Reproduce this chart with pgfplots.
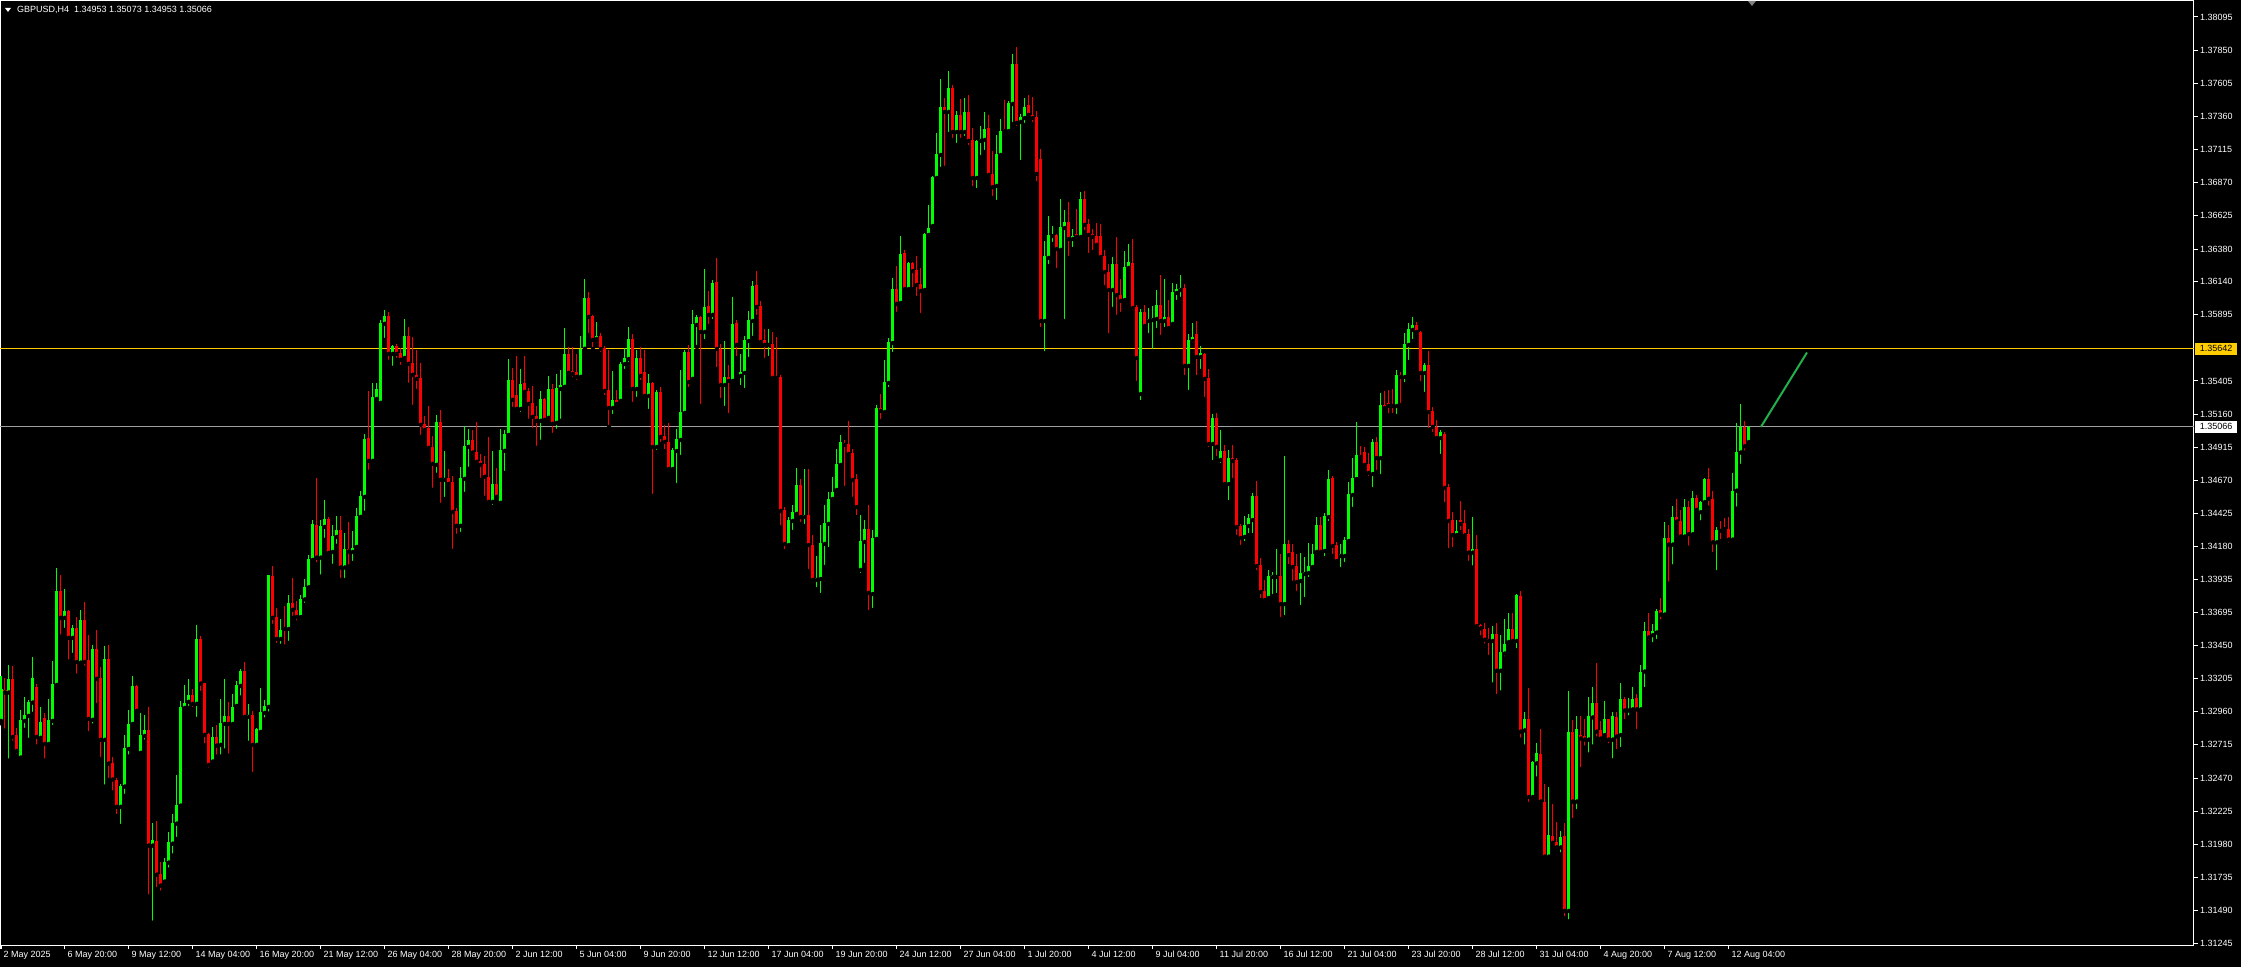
\documentclass[border=0pt]{standalone}
\usepackage{fontspec}
\setmainfont{Liberation Sans}
\usepackage{pgfplots}
\usepackage{pgfplotstable}
\pgfplotsset{compat=1.18}
\definecolor{bull}{HTML}{00FF00}
\definecolor{bear}{HTML}{FF0000}
\definecolor{lvl}{HTML}{FFCC00}
\definecolor{bid}{HTML}{A0A0A0}
\definecolor{trend}{HTML}{22B04C}

% GBPUSD H4: bar index, open, high, low, close
\pgfplotstableread{
i o h l c
0 1.32892 1.33227 1.32875 1.33129
1 1.33121 1.33208 1.32821 1.33102
2 1.33102 1.33306 1.32599 1.33203
3 1.33203 1.33299 1.32732 1.32774
4 1.32789 1.32838 1.32636 1.32670
5 1.32621 1.32974 1.32599 1.32900
6 1.32892 1.33070 1.32826 1.32937
7 1.32929 1.33047 1.32752 1.33035
8 1.33028 1.33368 1.32944 1.33210
9 1.33143 1.33166 1.32703 1.32774
10 1.32767 1.32996 1.32752 1.32885
11 1.32914 1.32949 1.32599 1.32722
12 1.32722 1.33055 1.32715 1.32900
13 1.32892 1.33336 1.32848 1.33166
14 1.33158 1.34023 1.33139 1.33853
15 1.33853 1.33971 1.33516 1.33654
16 1.33654 1.33868 1.33565 1.33705
17 1.33705 1.33713 1.33331 1.33506
18 1.33506 1.33602 1.33380 1.33580
19 1.33580 1.33663 1.33227 1.33328
20 1.33323 1.33713 1.33318 1.33639
21 1.33639 1.33772 1.33286 1.33328
22 1.33343 1.33528 1.32801 1.32907
23 1.32900 1.33454 1.32858 1.33424
24 1.33424 1.33565 1.33010 1.33203
25 1.33210 1.33294 1.32611 1.32752
26 1.32752 1.33447 1.32407 1.33350
27 1.33350 1.33454 1.32456 1.32577
28 1.32582 1.32626 1.32363 1.32459
29 1.32459 1.32468 1.32190 1.32257
30 1.32257 1.32429 1.32116 1.32414
31 1.32407 1.32789 1.32338 1.32693
32 1.32685 1.32974 1.32629 1.32870
33 1.32870 1.33227 1.32845 1.33151
34 1.33151 1.33158 1.32966 1.32966
35 1.32656 1.32949 1.32656 1.32789
36 1.32781 1.32937 1.32739 1.32826
37 1.32826 1.32996 1.31594 1.31971
38 1.31971 1.32141 1.31401 1.32013
39 1.32005 1.32153 1.31648 1.31756
40 1.31761 1.31852 1.31623 1.31675
41 1.31705 1.31882 1.31685 1.31850
42 1.31845 1.32072 1.31793 1.31998
43 1.31985 1.32205 1.31897 1.32138
44 1.32133 1.32493 1.32020 1.32271
45 1.32266 1.33040 1.32234 1.32996
46 1.32988 1.33161 1.32961 1.33025
47 1.33033 1.33203 1.32988 1.33084
48 1.33084 1.33129 1.32981 1.33018
49 1.33018 1.33602 1.32907 1.33498
50 1.33498 1.33520 1.33099 1.33168
51 1.33173 1.33173 1.32710 1.32789
52 1.32796 1.32803 1.32532 1.32567
53 1.32592 1.32848 1.32592 1.32774
54 1.32774 1.32865 1.32629 1.32710
55 1.32715 1.33055 1.32629 1.32877
56 1.32870 1.33203 1.32673 1.32929
57 1.32929 1.33033 1.32636 1.32870
58 1.32870 1.33092 1.32870 1.32996
59 1.33003 1.33188 1.32988 1.33158
60 1.33151 1.33277 1.33065 1.33262
61 1.33262 1.33328 1.32907 1.32922
62 1.32922 1.33018 1.32730 1.32937
63 1.32937 1.32966 1.32500 1.32715
64 1.32715 1.32840 1.32715 1.32833
65 1.32811 1.33136 1.32803 1.32959
66 1.32951 1.33047 1.32902 1.33003
67 1.32996 1.33971 1.32946 1.33971
68 1.33964 1.34038 1.33595 1.33654
69 1.33661 1.33728 1.33454 1.33498
70 1.33498 1.33646 1.33447 1.33565
71 1.33587 1.33742 1.33442 1.33572
72 1.33572 1.33824 1.33469 1.33764
73 1.33764 1.33949 1.33654 1.33713
74 1.33713 1.33780 1.33620 1.33660
75 1.33660 1.33820 1.33630 1.33790
76 1.33790 1.33939 1.33750 1.33880
77 1.33880 1.34119 1.33850 1.34090
78 1.34082 1.34378 1.34070 1.34348
79 1.34341 1.34688 1.34050 1.34099
80 1.34099 1.34378 1.33959 1.34334
81 1.34326 1.34526 1.34230 1.34385
82 1.34385 1.34400 1.34112 1.34134
83 1.34141 1.34341 1.34038 1.34260
84 1.34252 1.34408 1.34186 1.34304
85 1.34304 1.34408 1.33934 1.34026
86 1.34026 1.34282 1.33934 1.34164
87 1.34164 1.34363 1.34033 1.34144
88 1.34141 1.34297 1.34060 1.34171
89 1.34178 1.34467 1.34178 1.34408
90 1.34400 1.34592 1.34371 1.34555
91 1.34548 1.35014 1.34430 1.34977
92 1.34984 1.35332 1.34733 1.34814
93 1.34814 1.35391 1.34807 1.35287
94 1.35272 1.35391 1.35250 1.35346
95 1.35243 1.35856 1.35235 1.35834
96 1.35827 1.35930 1.35708 1.35886
97 1.35886 1.35916 1.35546 1.35605
98 1.35605 1.35672 1.35502 1.35664
99 1.35664 1.35679 1.35561 1.35605
100 1.35612 1.35649 1.35509 1.35561
101 1.35575 1.35864 1.35575 1.35738
102 1.35738 1.35805 1.35376 1.35531
103 1.35539 1.35731 1.35213 1.35450
104 1.35450 1.35635 1.35331 1.35420
105 1.35428 1.35539 1.34991 1.35080
106 1.35088 1.35147 1.35014 1.35043
107 1.35058 1.35221 1.34881 1.34910
108 1.34918 1.34999 1.34600 1.34792
109 1.34785 1.35154 1.34711 1.35102
110 1.35102 1.35191 1.34489 1.34674
111 1.34674 1.34888 1.34533 1.34688
112 1.34688 1.34755 1.34614 1.34644
113 1.34659 1.34703 1.34149 1.34437
114 1.34444 1.34467 1.34260 1.34334
115 1.34334 1.34770 1.34274 1.34688
116 1.34681 1.35073 1.34570 1.34925
117 1.34918 1.35051 1.34755 1.34969
118 1.34969 1.35043 1.34844 1.34876
119 1.34881 1.35102 1.34792 1.34807
120 1.34814 1.34866 1.34674 1.34785
121 1.34792 1.34851 1.34541 1.34696
122 1.34696 1.34991 1.34504 1.34511
123 1.34511 1.34888 1.34474 1.34644
124 1.34644 1.34762 1.34541 1.34548
125 1.34504 1.35051 1.34496 1.34895
126 1.34888 1.35043 1.34725 1.35014
127 1.35006 1.35568 1.34977 1.35413
128 1.35413 1.35502 1.35198 1.35265
129 1.35302 1.35590 1.35169 1.35198
130 1.35198 1.35494 1.35161 1.35383
131 1.35391 1.35590 1.35302 1.35324
132 1.35331 1.35354 1.35110 1.35235
133 1.35243 1.35368 1.35043 1.35139
134 1.35147 1.35221 1.34910 1.35110
135 1.35110 1.35331 1.34955 1.35272
136 1.35272 1.35280 1.35117 1.35117
137 1.35132 1.35442 1.35132 1.35346
138 1.35346 1.35383 1.35006 1.35088
139 1.35095 1.35457 1.35036 1.35354
140 1.35346 1.35487 1.35110 1.35376
141 1.35361 1.35797 1.35361 1.35605
142 1.35605 1.35657 1.35435 1.35465
143 1.35479 1.35657 1.35420 1.35457
144 1.35472 1.35605 1.35398 1.35435
145 1.35435 1.35738 1.35435 1.35642
146 1.35642 1.36159 1.35642 1.36018
147 1.36018 1.36063 1.35745 1.35878
148 1.35885 1.35890 1.35641 1.35708
149 1.35715 1.35841 1.35700 1.35737
150 1.35737 1.35760 1.35604 1.35641
151 1.35649 1.35663 1.35287 1.35331
152 1.35338 1.35634 1.35065 1.35205
153 1.35205 1.35479 1.35146 1.35264
154 1.35264 1.35338 1.35227 1.35235
155 1.35257 1.35545 1.35242 1.35530
156 1.35530 1.35649 1.35479 1.35575
157 1.35567 1.35804 1.35530 1.35715
158 1.35715 1.35752 1.35235 1.35346
159 1.35346 1.35634 1.35272 1.35575
160 1.35575 1.35656 1.35397 1.35442
161 1.35471 1.35634 1.35264 1.35294
162 1.35294 1.35456 1.35183 1.35390
163 1.35390 1.35397 1.34555 1.34917
164 1.34917 1.35338 1.34880 1.35323
165 1.35323 1.35360 1.34939 1.34991
166 1.34998 1.35080 1.34887 1.34954
167 1.34954 1.35094 1.34747 1.34754
168 1.34754 1.34910 1.34740 1.34895
169 1.34887 1.35050 1.34636 1.34976
170 1.34969 1.35483 1.34843 1.35176
171 1.35168 1.35634 1.35153 1.35619
172 1.35619 1.35671 1.35346 1.35397
173 1.35420 1.35930 1.35420 1.35826
174 1.35819 1.35893 1.35656 1.35878
175 1.35878 1.35883 1.35220 1.35767
176 1.35767 1.36233 1.35700 1.35952
177 1.35959 1.36070 1.35811 1.35893
178 1.35893 1.36151 1.35848 1.36129
179 1.36137 1.36314 1.35493 1.35641
180 1.35641 1.35678 1.35264 1.35375
181 1.35375 1.35700 1.35205 1.35434
182 1.35434 1.35523 1.35153 1.35405
183 1.35405 1.36026 1.35383 1.35826
184 1.35833 1.35856 1.35575 1.35671
185 1.35442 1.35604 1.35360 1.35471
186 1.35464 1.35737 1.35338 1.35708
187 1.35700 1.35922 1.35567 1.35856
188 1.35848 1.36144 1.35723 1.36107
189 1.36114 1.36218 1.35878 1.35952
190 1.35959 1.35996 1.35663 1.35693
191 1.35708 1.35789 1.35560 1.35671
192 1.35671 1.35789 1.35575 1.35678
193 1.35678 1.35767 1.35405 1.35427
194 1.35434 1.35730 1.35420 1.35427
195 1.35434 1.35449 1.34325 1.34444
196 1.34451 1.34473 1.34148 1.34200
197 1.34192 1.34399 1.34170 1.34377
198 1.34370 1.34488 1.34289 1.34436
199 1.34422 1.34762 1.34399 1.34636
200 1.34636 1.34680 1.34348 1.34399
201 1.34399 1.34754 1.34333 1.34414
202 1.34414 1.34754 1.34000 1.34192
203 1.34192 1.34266 1.33926 1.33934
204 1.33934 1.34111 1.33867 1.33948
205 1.33941 1.34340 1.33823 1.34207
206 1.34200 1.34488 1.34030 1.34355
207 1.34348 1.34584 1.34163 1.34533
208 1.34533 1.34695 1.34525 1.34584
209 1.34599 1.34902 1.34599 1.34791
210 1.34784 1.35006 1.34762 1.34954
211 1.34946 1.34969 1.34614 1.34932
212 1.34939 1.35109 1.34843 1.34865
213 1.34873 1.34902 1.34533 1.34673
214 1.34680 1.34717 1.34399 1.34473
215 1.34008 1.34414 1.33971 1.34222
216 1.34215 1.34377 1.34045 1.34311
217 1.34311 1.34488 1.33697 1.33838
218 1.33830 1.34303 1.33712 1.34244
219 1.34237 1.35227 1.34237 1.35205
220 1.35205 1.35308 1.35109 1.35183
221 1.35175 1.35560 1.35175 1.35397
222 1.35390 1.35722 1.35345 1.35693
223 1.35685 1.36166 1.35604 1.36084
224 1.36084 1.36254 1.35900 1.35974
225 1.35981 1.36476 1.35959 1.36343
226 1.36351 1.36373 1.36070 1.36084
227 1.36084 1.36284 1.36084 1.36277
228 1.36277 1.36282 1.36084 1.36217
229 1.36225 1.36328 1.36018 1.36114
230 1.36122 1.36240 1.35892 1.36070
231 1.36077 1.36498 1.36062 1.36491
232 1.36484 1.36705 1.36454 1.36535
233 1.36550 1.36917 1.36550 1.36912
234 1.36905 1.37238 1.36883 1.37082
235 1.37075 1.37637 1.36972 1.37430
236 1.37430 1.37496 1.36979 1.37393
237 1.37393 1.37696 1.37230 1.37570
238 1.37570 1.37592 1.37186 1.37245
239 1.37245 1.37400 1.37149 1.37371
240 1.37371 1.37489 1.37186 1.37245
241 1.37245 1.37496 1.37201 1.37393
242 1.37393 1.37519 1.37134 1.37179
243 1.37186 1.37275 1.36831 1.36905
244 1.36905 1.37186 1.36816 1.37179
245 1.37179 1.37289 1.37060 1.37193
246 1.37186 1.37393 1.37097 1.37267
247 1.37275 1.37371 1.36898 1.36927
248 1.36935 1.37105 1.36757 1.36838
249 1.36846 1.37223 1.36728 1.37082
250 1.37075 1.37341 1.37060 1.37252
251 1.37267 1.37481 1.37238 1.37252
252 1.37252 1.37474 1.37223 1.37459
253 1.37452 1.37822 1.37304 1.37748
254 1.37748 1.37873 1.37275 1.37312
255 1.37319 1.37378 1.37023 1.37356
256 1.37348 1.37496 1.37297 1.37430
257 1.37445 1.37519 1.37348 1.37371
258 1.37371 1.37504 1.37304 1.37348
259 1.37356 1.37400 1.36868 1.36935
260 1.37045 1.37119 1.35789 1.35848
261 1.35848 1.36439 1.35611 1.36328
262 1.36314 1.36624 1.36254 1.36484
263 1.36476 1.36550 1.36417 1.36484
264 1.36484 1.36489 1.36225 1.36380
265 1.36373 1.36750 1.36358 1.36543
266 1.36535 1.36668 1.35848 1.36580
267 1.36580 1.36728 1.36314 1.36454
268 1.36454 1.36528 1.36380 1.36476
269 1.36491 1.36676 1.36439 1.36469
270 1.36469 1.36802 1.36439 1.36750
271 1.36750 1.36809 1.36506 1.36558
272 1.36565 1.36602 1.36336 1.36484
273 1.36491 1.36528 1.36358 1.36469
274 1.36476 1.36572 1.36402 1.36410
275 1.36476 1.36565 1.36306 1.36321
276 1.36328 1.36373 1.36099 1.36210
277 1.36210 1.36270 1.35744 1.36077
278 1.36077 1.36321 1.35937 1.36269
279 1.36269 1.36469 1.35878 1.36040
280 1.36040 1.36158 1.35900 1.35996
281 1.36003 1.36365 1.36003 1.36247
282 1.36240 1.36417 1.36217 1.36284
283 1.36277 1.36454 1.35914 1.35944
284 1.35951 1.35966 1.35390 1.35574
285 1.35308 1.35937 1.35249 1.35914
286 1.35914 1.35966 1.35803 1.35811
287 1.35848 1.35944 1.35744 1.35863
288 1.35855 1.35959 1.35626 1.35870
289 1.35863 1.36077 1.35781 1.35966
290 1.35966 1.36188 1.35730 1.35848
291 1.35848 1.36158 1.35789 1.35878
292 1.35878 1.36003 1.35781 1.35796
293 1.35826 1.36129 1.35826 1.36063
294 1.36055 1.36122 1.35989 1.36085
295 1.36077 1.36188 1.36011 1.36092
296 1.36092 1.36122 1.35434 1.35516
297 1.35516 1.35752 1.35323 1.35708
298 1.35700 1.35833 1.35686 1.35730
299 1.35752 1.35848 1.35434 1.35582
300 1.35582 1.35663 1.35479 1.35612
301 1.35604 1.35609 1.35272 1.35420
302 1.35427 1.35493 1.34902 1.34939
303 1.34939 1.35161 1.34806 1.35131
304 1.35131 1.35168 1.34835 1.34917
305 1.34821 1.35042 1.34784 1.34887
306 1.34887 1.34932 1.34643 1.34643
307 1.34643 1.34895 1.34510 1.34835
308 1.34835 1.34932 1.34673 1.34813
309 1.34821 1.34835 1.34252 1.34325
310 1.34333 1.34348 1.34178 1.34244
311 1.34252 1.34407 1.34207 1.34340
312 1.34333 1.34422 1.34266 1.34392
313 1.34377 1.34577 1.34266 1.34555
314 1.34555 1.34665 1.33993 1.34037
315 1.34045 1.34096 1.33786 1.33845
316 1.33852 1.33934 1.33778 1.33786
317 1.33801 1.34008 1.33793 1.33963
318 1.33956 1.33993 1.33815 1.33971
319 1.33956 1.34163 1.33823 1.33963
320 1.33963 1.34126 1.33645 1.33756
321 1.33756 1.34850 1.33660 1.34200
322 1.34200 1.34229 1.34037 1.34118
323 1.34141 1.34200 1.33912 1.34030
324 1.34037 1.34126 1.33838 1.33919
325 1.33926 1.34133 1.33734 1.33985
326 1.33978 1.34104 1.33793 1.33993
327 1.33985 1.34207 1.33941 1.34037
328 1.34030 1.34200 1.34015 1.34126
329 1.34141 1.34399 1.34141 1.34340
330 1.34340 1.34399 1.34126 1.34141
331 1.34148 1.34429 1.34096 1.34407
332 1.34399 1.34747 1.34355 1.34680
333 1.34688 1.34702 1.34111 1.34185
334 1.34192 1.34215 1.34052 1.34074
335 1.34111 1.34200 1.34015 1.34126
336 1.34111 1.34252 1.34052 1.34229
337 1.34222 1.34658 1.34200 1.34569
338 1.34562 1.34835 1.34459 1.34688
339 1.34680 1.35102 1.34680 1.34858
340 1.34858 1.34924 1.34821 1.34843
341 1.34880 1.34917 1.34754 1.34784
342 1.34791 1.34872 1.34688 1.34725
343 1.34717 1.34976 1.34606 1.34954
344 1.34954 1.34991 1.34732 1.34835
345 1.34835 1.35316 1.34702 1.35227
346 1.35227 1.35331 1.35183 1.35205
347 1.35242 1.35338 1.35153 1.35220
348 1.35227 1.35346 1.35153 1.35220
349 1.35220 1.35486 1.35146 1.35449
350 1.35449 1.35471 1.35227 1.35434
351 1.35434 1.35759 1.35382 1.35678
352 1.35671 1.35833 1.35545 1.35789
353 1.35782 1.35878 1.35700 1.35819
354 1.35819 1.35841 1.35737 1.35767
355 1.35767 1.35772 1.35390 1.35464
356 1.35464 1.35538 1.35309 1.35523
357 1.35523 1.35626 1.35042 1.35175
358 1.35183 1.35212 1.35013 1.35065
359 1.35065 1.35116 1.34961 1.34983
360 1.34983 1.35042 1.34850 1.35028
361 1.35013 1.35028 1.34495 1.34614
362 1.34621 1.34643 1.34155 1.34370
363 1.34377 1.34436 1.34163 1.34266
364 1.34266 1.34377 1.34252 1.34296
365 1.34377 1.34518 1.34289 1.34348
366 1.34356 1.34452 1.34255 1.34263
367 1.34272 1.34314 1.34060 1.34136
368 1.34136 1.34402 1.34026 1.34161
369 1.34161 1.34263 1.33568 1.33593
370 1.33602 1.33610 1.33509 1.33576
371 1.33568 1.33619 1.33449 1.33492
372 1.33500 1.33576 1.33365 1.33483
373 1.33483 1.33593 1.33161 1.33534
374 1.33534 1.33619 1.33076 1.33263
375 1.33263 1.33525 1.33102 1.33398
376 1.33390 1.33644 1.33356 1.33458
377 1.33475 1.33692 1.33458 1.33568
378 1.33568 1.33692 1.33466 1.33483
379 1.33483 1.33828 1.33415 1.33822
380 1.33814 1.33856 1.32754 1.32813
381 1.32822 1.32958 1.32703 1.32907
382 1.32907 1.33135 1.32279 1.32330
383 1.32330 1.32593 1.32322 1.32585
384 1.32579 1.32729 1.32466 1.32652
385 1.32644 1.32830 1.32290 1.32296
386 1.32296 1.32423 1.31881 1.31889
387 1.31889 1.32404 1.31864 1.32050
388 1.32042 1.32279 1.31966 1.31991
389 1.31999 1.32144 1.31932 1.31957
390 1.31957 1.32076 1.31906 1.32033
391 1.32042 1.32135 1.31435 1.31488
392 1.31488 1.33110 1.31410 1.32811
393 1.32811 1.32901 1.32160 1.32296
394 1.32296 1.32926 1.32226 1.32836
395 1.32788 1.32932 1.32536 1.32762
396 1.32780 1.32907 1.32695 1.32754
397 1.32754 1.33068 1.32644 1.32926
398 1.32918 1.33144 1.32703 1.33028
399 1.33028 1.33319 1.32762 1.32813
400 1.32822 1.32890 1.32729 1.32762
401 1.32788 1.33037 1.32788 1.32904
402 1.32904 1.32909 1.32712 1.32754
403 1.32754 1.32960 1.32601 1.32926
404 1.32918 1.32960 1.32669 1.32777
405 1.32788 1.33169 1.32684 1.33051
406 1.33051 1.33068 1.32890 1.32969
407 1.32969 1.33062 1.32918 1.32983
408 1.32977 1.33144 1.32960 1.33051
409 1.33059 1.33093 1.32816 1.32977
410 1.32977 1.33308 1.32952 1.33257
411 1.33257 1.33624 1.33127 1.33559
412 1.33559 1.33687 1.33475 1.33509
413 1.33526 1.33605 1.33458 1.33554
414 1.33545 1.33718 1.33483 1.33704
415 1.33712 1.33803 1.33627 1.33678
416 1.33678 1.34365 1.33653 1.34241
417 1.34241 1.34342 1.33907 1.34195
418 1.34195 1.34484 1.34034 1.34402
419 1.34402 1.34534 1.34331 1.34365
420 1.34373 1.34452 1.34246 1.34255
421 1.34255 1.34534 1.34246 1.34470
422 1.34470 1.34520 1.34173 1.34272
423 1.34272 1.34588 1.34246 1.34543
424 1.34543 1.34563 1.34427 1.34452
425 1.34435 1.34517 1.34359 1.34512
426 1.34509 1.34690 1.34509 1.34681
427 1.34681 1.34763 1.34469 1.34534
428 1.34534 1.34588 1.34125 1.34212
429 1.34212 1.34323 1.33992 1.34306
430 1.34306 1.34373 1.34221 1.34297
431 1.34314 1.34390 1.34280 1.34308
432 1.34314 1.34402 1.34195 1.34232
433 1.34232 1.34721 1.34232 1.34594
434 1.34594 1.35097 1.34461 1.34882
435 1.34876 1.35235 1.34777 1.35063
436 1.35063 1.35111 1.34876 1.34922
437 1.34953 1.35073 1.34953 1.35066
}\candles

\begin{document}
\begin{tikzpicture}
\fill[black] (0,-22pt) rectangle (2241pt,945pt);
\useasboundingbox (0,-22pt) rectangle (2241pt,945pt);
% y axis is drawn in pips above 1.30000; labels show the prices
\begin{axis}[
  at={(0,0)}, anchor=south west,
  scale only axis, width=2194pt, height=944pt,
  xmin=-0.25, xmax=548.25,
  ymin=123.6, ymax=821.3,
  clip mode=individual,
  axis line style={white, line width=1pt},
  xtick pos=left, ytick pos=right,
  tick align=outside, major tick length=4pt,
  tick style={white, line width=1pt},
  ticklabel style={font=\fontsize{9}{10}\selectfont, text=white, inner sep=0pt},
  xtick={0,16,...,432},
  xticklabels={2 May 2025, 6 May 20:00, 9 May 12:00, 14 May 04:00, 16 May 20:00, 21 May 12:00, 26 May 04:00, 28 May 20:00, 2 Jun 12:00, 5 Jun 04:00, 9 Jun 20:00, 12 Jun 12:00, 17 Jun 04:00, 19 Jun 20:00, 24 Jun 12:00, 27 Jun 04:00, 1 Jul 20:00, 4 Jul 12:00, 9 Jul 04:00, 11 Jul 20:00, 16 Jul 12:00, 21 Jul 04:00, 23 Jul 20:00, 28 Jul 12:00, 31 Jul 04:00, 4 Aug 20:00, 7 Aug 12:00, 12 Aug 04:00},
  xticklabel style={anchor=north west, xshift=2.5pt, yshift=-2pt},
  ytick={124.5,149.0,173.5,198.0,222.5,247.0,271.5,296.0,320.5,345.0,369.5,393.5,418.0,442.5,467.0,491.5,516.0,540.5,589.5,614.0,638.0,662.5,687.0,711.5,736.0,760.5,785.0,809.5},
  yticklabels={1.31245,1.31490,1.31735,1.31980,1.32225,1.32470,1.32715,1.32960,1.33205,1.33450,1.33695,1.33935,1.34180,1.34425,1.34670,1.34915,1.35160,1.35405,1.35895,1.36140,1.36380,1.36625,1.36870,1.37115,1.37360,1.37605,1.37850,1.38095},
  yticklabel style={anchor=west, xshift=2pt},
]
% price levels
\addplot[lvl, line width=1pt, forget plot] coordinates {(-0.25,564.2) (548.25,564.2)};
\addplot[bid, line width=1pt, forget plot] coordinates {(-0.25,506.6) (548.25,506.6)};

% wicks
\addplot[only marks, mark=none, forget plot,
  restrict expr to domain={\thisrow{c}-\thisrow{o}}{0:1},
  error bars/.cd, y dir=plus, y explicit, error mark=none,
  error bar style={draw=bull, solid, line width=1pt}]
  table[x=i, y expr=(\thisrow{l}-1.3)*10000, y error expr=(\thisrow{h}-\thisrow{l})*10000] {\candles};
\addplot[only marks, mark=none, forget plot,
  restrict expr to domain={\thisrow{o}-\thisrow{c}}{0.000001:1},
  error bars/.cd, y dir=plus, y explicit, error mark=none,
  error bar style={draw=bear, solid, line width=1pt}]
  table[x=i, y expr=(\thisrow{l}-1.3)*10000, y error expr=(\thisrow{h}-\thisrow{l})*10000] {\candles};
% bodies
\addplot[only marks, mark=none, forget plot,
  restrict expr to domain={\thisrow{c}-\thisrow{o}}{0:1},
  error bars/.cd, y dir=plus, y explicit, error mark=none,
  error bar style={draw=bull, solid, line width=3pt}]
  table[x=i, y expr=(\thisrow{o}-1.3)*10000, y error expr=(\thisrow{c}-\thisrow{o})*10000] {\candles};
\addplot[only marks, mark=none, forget plot,
  restrict expr to domain={\thisrow{o}-\thisrow{c}}{0.000001:1},
  error bars/.cd, y dir=plus, y explicit, error mark=none,
  error bar style={draw=bear, solid, line width=3pt}]
  table[x=i, y expr=(\thisrow{c}-1.3)*10000, y error expr=(\thisrow{o}-\thisrow{c})*10000] {\candles};

% trend line
\addplot[trend, line width=2pt, forget plot] coordinates {(440,506.6) (451.5,561.5)};

% labels on the price scale
\node[fill=lvl, text=black, anchor=west, inner sep=0pt, minimum width=42pt, minimum height=12pt,
  font=\fontsize{9}{10}\selectfont, xshift=1pt] at (axis cs:548.25,564.2) {1.35642};
\node[fill=white, text=black, anchor=west, inner sep=0pt, minimum width=42pt, minimum height=12pt,
  font=\fontsize{9}{10}\selectfont, xshift=1pt] at (axis cs:548.25,506.6) {1.35066};

% header
\fill[white] (rel axis cs:0,1) ++(5pt,-7pt) -- ++(6pt,0pt) -- ++(-3pt,-4pt) -- cycle;
\node[anchor=west, text=white, inner sep=0pt, font=\fontsize{9}{10}\selectfont, xshift=17pt, yshift=-9pt]
  at (rel axis cs:0,1) {GBPUSD,H4\ \ 1.34953 1.35073 1.34953 1.35066};
% chart shift marker
\fill[gray] (axis cs:437.75,821.3) ++(-4pt,0pt) -- ++(8pt,0pt) -- ++(-4pt,-5pt) -- cycle;
\end{axis}
\end{tikzpicture}
\end{document}
